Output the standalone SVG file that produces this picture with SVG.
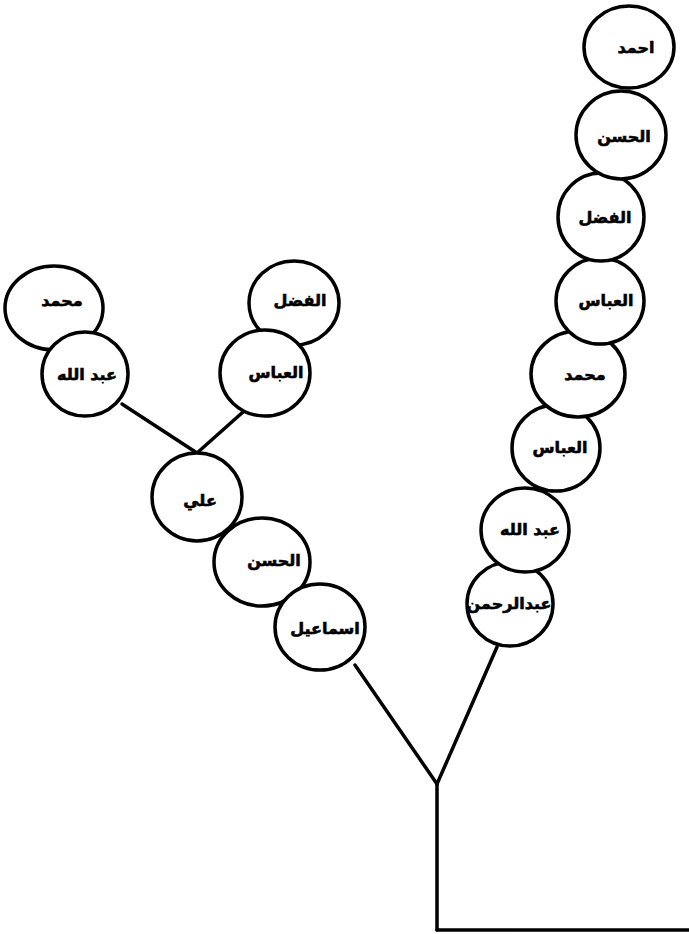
<svg xmlns="http://www.w3.org/2000/svg" width="689" height="934" viewBox="0 0 689 934">
<style>
.n ellipse{fill:#fff;stroke:#000;stroke-width:3.5}
.n text{font-family:"DejaVu Sans",sans-serif;font-weight:bold;font-size:16px;text-anchor:middle;fill:#000;stroke:#000;stroke-width:0.6}
.c line{stroke:#000;stroke-width:3.5;stroke-linecap:round}
</style>
<rect width="689" height="934" fill="#fff"/>
<g id="connectors" class="c">
<line x1="122" y1="404" x2="197" y2="453"/>
<line x1="243" y1="412" x2="197" y2="453"/>
<line x1="355" y1="665" x2="437" y2="784"/>
<line x1="497" y1="647" x2="437" y2="784"/>
<line x1="437" y1="784" x2="437" y2="930"/>
<line x1="437" y1="930" x2="689" y2="930"/>
</g>
<g id="r1" class="n"><ellipse cx="629" cy="47" rx="45" ry="41"/><text x="636" y="53">احمد</text></g>
<g id="r8" class="n"><ellipse cx="510" cy="604" rx="43" ry="42"/><text x="509" y="609">عبدالرحمن</text></g>
<g id="r7" class="n"><ellipse cx="525" cy="530" rx="44" ry="42"/><text x="530" y="535">عبد الله</text></g>
<g id="r6" class="n"><ellipse cx="556" cy="448" rx="44" ry="43"/><text x="560" y="453">العباس</text></g>
<g id="r5" class="n"><ellipse cx="578" cy="374" rx="47" ry="43"/><text x="585" y="380">محمد</text></g>
<g id="r4" class="n"><ellipse cx="600" cy="301" rx="44" ry="43"/><text x="606" y="306">العباس</text></g>
<g id="r3" class="n"><ellipse cx="601" cy="217" rx="43" ry="44"/><text x="605" y="223">الفضل</text></g>
<g id="r2" class="n"><ellipse cx="621" cy="135" rx="45" ry="44"/><text x="624" y="142">الحسن</text></g>
<g id="l1" class="n"><ellipse cx="54" cy="308" rx="49" ry="42"/><text x="62" y="306">محمد</text></g>
<g id="l2" class="n"><ellipse cx="85" cy="374" rx="43" ry="42"/><text x="87" y="380">عبد الله</text></g>
<g id="l3" class="n"><ellipse cx="294" cy="303" rx="45" ry="42"/><text x="300" y="306">الفضل</text></g>
<g id="l4" class="n"><ellipse cx="265" cy="373" rx="45" ry="43"/><text x="276" y="378">العباس</text></g>
<g id="l5" class="n"><ellipse cx="197" cy="497" rx="45" ry="44"/><text x="200" y="506">علي</text></g>
<g id="l6" class="n"><ellipse cx="262" cy="562" rx="48" ry="44"/><text x="274" y="566">الحسن</text></g>
<g id="l7" class="n"><ellipse cx="320" cy="627" rx="45" ry="43"/><text x="325" y="634">اسماعيل</text></g>
</svg>
